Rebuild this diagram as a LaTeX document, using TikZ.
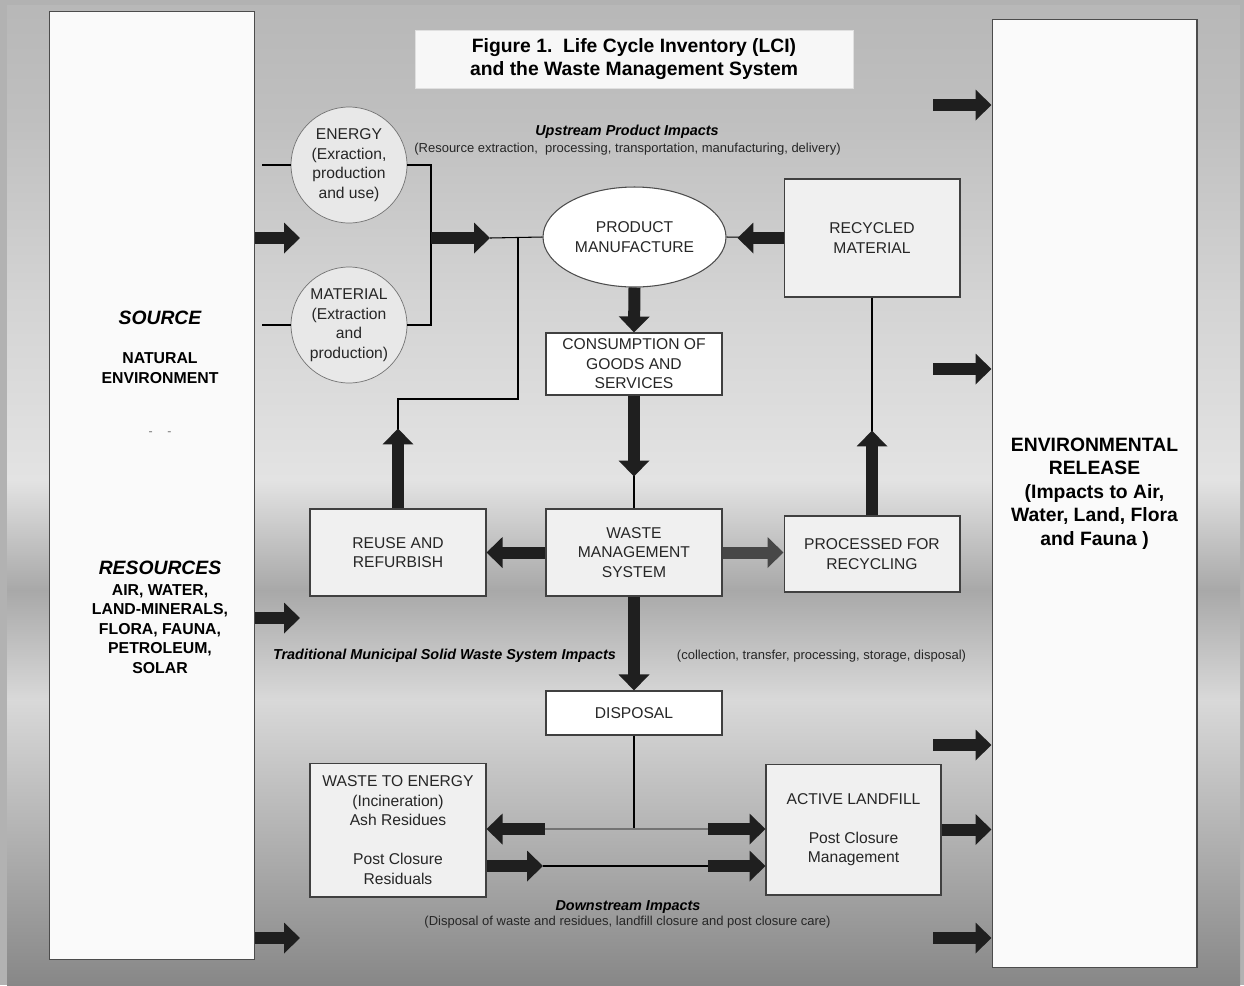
\documentclass[tikz,border=0pt]{standalone}
\usepackage{fontspec}
\setmainfont{Liberation Sans}
\usepackage{tikz}
\usetikzlibrary{arrows.meta}
\usetikzlibrary{shapes.geometric}
\definecolor{frame}{gray}{0.70}
\definecolor{bga}{gray}{0.72}
\definecolor{bgb}{gray}{0.75}
\definecolor{bgc}{gray}{0.83}
\definecolor{bgd}{gray}{0.89}
\definecolor{bge}{gray}{0.66}
\definecolor{bgf}{gray}{0.85}
\definecolor{bgg}{gray}{0.53}
\definecolor{ink}{gray}{0.12}
\tikzset{bigbox/.style = {draw=black!70, line width=0.6pt, fill=black!2, inner sep=0pt,
                          minimum width=4.1cm, minimum height=18.98cm, align=center,
                          font=\bfseries\fontsize{11}{13.4}\selectfont}}
\tikzset{box/.style = {draw=black!75, line width=0.6pt, fill=black!6, text=black!85,
                       inner sep=0pt, minimum width=3.52cm, align=center,
                       font=\fontsize{8.9}{11.1}\selectfont}}
\tikzset{bubble/.style = {circle, draw=black!55, fill=black!9, text=black!85,
                          minimum size=2.32cm, inner sep=0pt, align=center,
                          font=\fontsize{8.9}{11.1}\selectfont}}
\tikzset{srchead/.style = {font=\bfseries\itshape\fontsize{11}{13}\selectfont}}
\tikzset{srctext/.style = {align=center, font=\bfseries\fontsize{9}{11.1}\selectfont}}
\tikzset{impact/.style = {inner sep=0pt, font=\bfseries\itshape\fontsize{8.2}{10}\selectfont}}
\tikzset{detail/.style = {inner sep=0pt, text=black!85, font=\fontsize{7.4}{9}\selectfont}}
\tikzset{link/.style = {draw=black, line width=0.6pt}}
\tikzset{bigarrow/.style = {draw=ink, line width=0.24cm,
                            -{Triangle[length=0.32cm, width=0.6cm]}}}

\begin{document}
\begin{tikzpicture}[x=0.02cm, y=-0.02cm]
    \useasboundingbox (0, 0) rectangle (1244, 985);
    \fill [frame] (0, 0) rectangle (1244, 985);

    \shade [top color=bga, bottom color=bgb] (7, 5) rectangle (1240, 120);
    \shade [top color=bgb, bottom color=bgc] (7, 120) rectangle (1240, 300);
    \shade [top color=bgc, bottom color=bgd] (7, 300) rectangle (1240, 480);
    \shade [top color=bgd, bottom color=bge] (7, 480) rectangle (1240, 590);
    \shade [top color=bge, bottom color=bgf] (7, 590) rectangle (1240, 700);
    \shade [top color=bgf, bottom color=bgg] (7, 700) rectangle (1240, 985);

    \node [bigbox] (src) at (152, 485.5) {};
    \node [bigbox] (env) at (1094.5, 493.5) {ENVIRONMENTAL\\RELEASE\\(Impacts to Air,\\Water, Land, Flora\\and Fauna )};

    \node [srchead] (source) at (160, 318) {SOURCE};
    \node [srctext] (natural) at (160, 368) {NATURAL\\ENVIRONMENT};
    \node [text=black!55, font=\fontsize{7}{8}\selectfont] (dashes) at (160, 434) {-\hspace{1.2em}-};
    \node [srchead] (resources) at (160, 568) {RESOURCES};
    \node [srctext] (reslist) at (160, 629) {AIR, WATER,\\LAND-MINERALS,\\FLORA, FAUNA,\\PETROLEUM,\\SOLAR};

    \node [draw=black!12, fill=black!3, minimum width=8.76cm, minimum height=1.16cm, align=center,
           font=\bfseries\fontsize{11}{13.1}\selectfont] (title) at (634, 59)
          {Figure 1.\ \ Life Cycle Inventory (LCI)\\and the Waste Management System};

    \node [impact] (upstream) at (627, 132) {Upstream Product Impacts};
    \node [detail] (updetail) at (627.5, 149) {(Resource extraction,\ \ processing, transportation, manufacturing, delivery)};
    \node [impact] (msw) at (444.5, 656) {Traditional Municipal Solid Waste System Impacts};
    \node [detail] (mswdetail) at (821.5, 656) {(collection, transfer, processing, storage, disposal)};
    \node [impact] (downstream) at (628, 907) {Downstream Impacts};
    \node [detail] (downdetail) at (627.5, 922) {(Disposal of waste and residues, landfill closure and post closure care)};

    \node [bubble] (energy) at (349, 165) {ENERGY\\(Exraction,\\production\\and use)};
    \node [bubble] (material) at (349, 325) {MATERIAL\\(Extraction\\and\\production)};
    \node [ellipse, draw=black!70, line width=0.6pt, fill=white, text=black!85, inner sep=0pt,
           minimum width=3.66cm, minimum height=2cm, align=center,
           font=\fontsize{8.9}{11.1}\selectfont] (prod) at (634.5, 237) {PRODUCT\\MANUFACTURE};
    \node [box, minimum height=2.36cm] (recyc) at (872, 238) {RECYCLED\\MATERIAL};
    \node [box, fill=white, minimum height=1.24cm] (consum) at (634, 364) {CONSUMPTION OF\\GOODS AND\\SERVICES};
    \node [box, minimum height=1.74cm] (waste) at (634, 552.5) {WASTE\\MANAGEMENT\\SYSTEM};
    \node [box, minimum height=1.74cm] (reuse) at (398, 552.5) {REUSE AND\\REFURBISH};
    \node [box, minimum height=1.52cm] (proc) at (872, 554) {PROCESSED FOR\\RECYCLING};
    \node [box, fill=white, minimum height=0.88cm] (disp) at (634, 713) {DISPOSAL};
    \node [box, minimum height=2.68cm] (wte) at (398, 830) {WASTE TO ENERGY\\(Incineration)\\Ash Residues\\[0.39cm]Post Closure\\Residuals};
    \node [box, minimum width=3.5cm, minimum height=2.62cm] (landfill) at (853.5, 829.5) {ACTIVE LANDFILL\\[0.39cm]Post Closure\\Management};

    \coordinate (e0) at (262, 165);
    \coordinate (e1) at (262, 325);
    \coordinate (j1) at (431, 325);
    \coordinate (j2) at (431, 238);
    \coordinate (j3) at (490, 238);
    \coordinate (k1) at (518, 238);
    \coordinate (k2) at (398, 399);
    \coordinate (m1) at (634, 829);
    \coordinate (m2) at (545, 829);
    \coordinate (m3) at (708, 829);
    \coordinate (n1) at (543, 866);
    \coordinate (n2) at (708, 866);
    \coordinate (i1) at (300, 238);
    \coordinate (i2) at (300, 618);
    \coordinate (i3) at (300, 938);
    \coordinate (o1) at (933, 105);
    \coordinate (o2) at (933, 369);
    \coordinate (o3) at (933, 745);
    \coordinate (o4) at (933, 938);

    \draw [link] (e0) -- (energy.west);
    \draw [link] (e1) -- (material.west);
    \draw [link] (energy.east) -| (j1) -- (material.east);
    \draw [link] (j3) -- (prod.west);
    \draw [link] (k1) |- (k2) -- (reuse.north);
    \draw [link] (prod.east) -- (recyc.west);
    \draw [link] (recyc.south) -- (proc.north);
    \draw [link] (consum.south) -- (waste.north);
    \draw [link] (disp.south) -- (m1);
    \draw [link, draw=black!55, line width=1.2pt] (m2) -- (m3);
    \draw [link] (n1) -- (n2);

    \draw [bigarrow] (j2) -- (j3);
    \draw [bigarrow] (recyc.west) -- ++(-46, 0);
    \draw [bigarrow] (prod.south) -- (consum.north);
    \draw [bigarrow] (consum.south) -- ++(0, 81);
    \draw [bigarrow] (reuse.north) -- ++(0, -80);
    \draw [bigarrow] (proc.north) -- ++(0, -85);
    \draw [bigarrow] (waste.west) -- (reuse.east);
    \draw [bigarrow, draw=black!72] (waste.east) -- (waste.east -| proc.west);
    \draw [bigarrow] (waste.south) -- (disp.north);
    \draw [bigarrow] (m2) -- (wte.east |- m2);
    \draw [bigarrow] (m3) -- (landfill.west |- m3);
    \draw [bigarrow] (wte.east |- n1) -- (n1);
    \draw [bigarrow] (n2) -- (landfill.west |- n2);
    \draw [bigarrow] (landfill.east) -- (landfill.east -| env.west);

    \draw [bigarrow] (i1 -| src.east) -- (i1);
    \draw [bigarrow] (i2 -| src.east) -- (i2);
    \draw [bigarrow] (i3 -| src.east) -- (i3);
    \draw [bigarrow] (o1) -- (o1 -| env.west);
    \draw [bigarrow] (o2) -- (o2 -| env.west);
    \draw [bigarrow] (o3) -- (o3 -| env.west);
    \draw [bigarrow] (o4) -- (o4 -| env.west);
  \end{tikzpicture}
\end{document}
